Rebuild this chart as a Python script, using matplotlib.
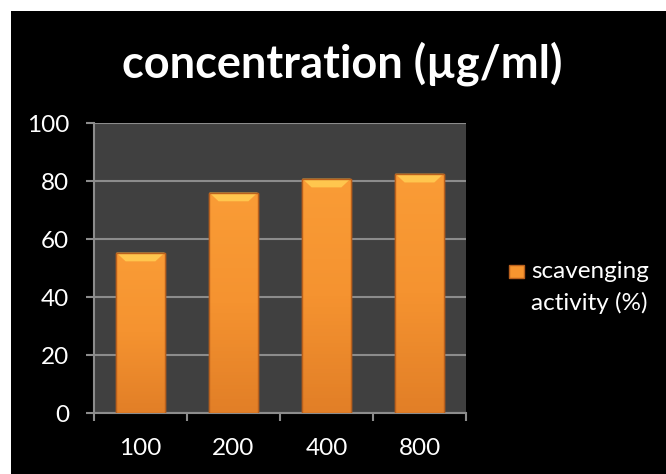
import matplotlib
matplotlib.use("Agg")
import matplotlib.pyplot as plt
from matplotlib.patches import Rectangle, Polygon
import numpy as np

# data
concentrations = ["100", "200", "400", "800"]
activity = [55.3, 76.0, 80.8, 82.5]
y_ticks = [0, 20, 40, 60, 80, 100]
title = "concentration (\u00b5g/ml)"
series_label = ["scavenging", "activity (%)"]

plt.rcParams["font.family"] = ["Lato", "DejaVu Sans"]

W, H = 666, 474
fig = plt.figure(figsize=(W / 100, H / 100), dpi=100, facecolor="white")
# black slide background (white border top/left)
fig.patches.append(Rectangle((11 / W, 0), 1, 1 - 11 / H, transform=fig.transFigure,
                             facecolor="black", edgecolor="none", zorder=-10))

ax = fig.add_axes([94 / W, 61 / H, 372 / W, 290 / H])
ax.set_facecolor("#404040")

x = np.arange(len(concentrations))
bar_w = 0.52
body = "#F7952F"
edge = "#B9601D"
bars = ax.bar(x, activity, width=bar_w, color=body, edgecolor=edge,
              linewidth=1.0, zorder=3)

# vertical shading + top bevel for the 3D look
grad = np.linspace(0, 1, 64).reshape(-1, 1)
cmap = matplotlib.colors.LinearSegmentedColormap.from_list(
    "bar", ["#E27F27", "#F59330", "#FA9C36"])
for b, v in zip(bars, activity):
    x0 = b.get_x()
    im = ax.imshow(grad, extent=(x0, x0 + bar_w, 0, v), origin="lower",
                   cmap=cmap, aspect="auto", zorder=3.1)
    im.set_clip_path(b)
    dx = 0.1
    dy = 3.0
    top = Polygon([(x0, v), (x0 + bar_w, v), (x0 + bar_w - dx, v - dy),
                   (x0 + dx, v - dy)], closed=True, facecolor="#FFC64E",
                  edgecolor="none", zorder=3.2)
    ax.add_patch(top)
    ax.add_patch(Rectangle((x0, 0), bar_w, v, facecolor="none",
                           edgecolor=edge, linewidth=1.0, zorder=3.3))

ax.set_xlim(-0.5, len(concentrations) - 0.5)
ax.set_ylim(0, 100)
ax.set_yticks(y_ticks)
ax.set_yticklabels([str(t) for t in y_ticks])
ax.set_xticks(x)
ax.set_xticklabels(concentrations)
ax.set_xticks(np.arange(len(concentrations) + 1) - 0.5, minor=True)

grid_c = "#8C8C8C"
ax.yaxis.grid(True, color=grid_c, linewidth=1.5, zorder=1)
ax.set_axisbelow(True)
for s in ["top", "right"]:
    ax.spines[s].set_visible(False)
for s in ["left", "bottom"]:
    ax.spines[s].set_color(grid_c)
    ax.spines[s].set_linewidth(1.5)

ax.tick_params(axis="y", colors=grid_c, labelcolor="white", labelsize=17.5,
               length=5.8, width=1.5, pad=12)
ax.tick_params(axis="x", which="major", length=0, labelcolor="white",
               labelsize=17.5, pad=18)
ax.tick_params(axis="x", which="minor", colors=grid_c, length=5.8, width=1.5)

fig.text(342 / W, 1 - 64 / H, title, color="white", fontsize=32.5,
         fontweight="bold", ha="center", va="center")

# legend
fig.patches.append(Rectangle((509 / W, 1 - 278 / H), 15 / W, 13 / H,
                             transform=fig.transFigure, facecolor="#F7952F",
                             edgecolor=edge, linewidth=1))
fig.text(531 / W, 1 - 271 / H, series_label[0], color="white", fontsize=17.5,
         ha="left", va="center")
fig.text(531 / W, 1 - 303 / H, series_label[1], color="white", fontsize=17.5,
         ha="left", va="center")

fig.savefig("out.png", dpi=100, facecolor=fig.get_facecolor())
